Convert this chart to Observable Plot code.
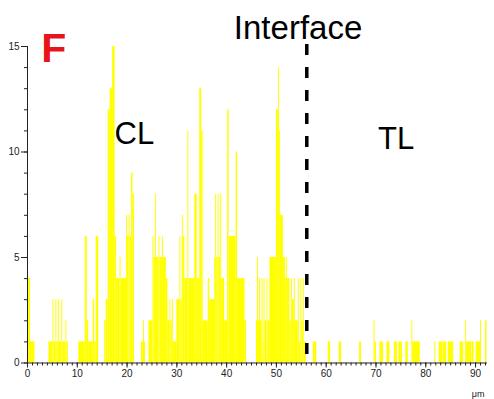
<!DOCTYPE html>
<html><head><meta charset="utf-8">
<script src="https://cdn.jsdelivr.net/npm/d3@7"></script>
<script src="https://cdn.jsdelivr.net/npm/@observablehq/plot@0.6"></script>
<style>html,body{margin:0;padding:0;background:#fff}svg{overflow:visible}</style>
</head><body><div id="chart"></div>
<script>
// [start μm, end μm, count]
const clRuns = [
[0.0,0.2,1],[0.2,0.6,4],[0.6,1.5,1],
[4.3,5.1,1],[5.1,5.3,3],[5.3,5.7,1],[5.7,5.9,3],[5.9,6.2,1],[6.2,6.4,3],[6.4,6.9,1],[6.9,7.1,3],[7.1,7.7,1],[7.7,7.9,2],[7.9,8.2,1],
[10.3,11.6,1],[11.6,12.0,6],[12.0,12.3,2],[12.3,13.2,1],[13.2,13.5,3],[13.5,13.8,1],[13.8,14.3,6],
[15.5,15.8,2],[15.8,16.2,3],[16.2,16.6,12],[16.6,17.1,13],[17.1,17.6,15],[17.6,17.9,6],[17.9,18.6,4],[18.6,18.8,5],[18.8,19.9,4],[19.9,20.1,7],[20.1,20.4,6],[20.4,20.6,7],[20.6,20.9,6],[20.9,21.2,9],[21.2,21.5,8],
[22.9,23.3,1],[23.3,23.5,2],[23.5,23.7,1],
[24.4,25.2,2],[25.2,25.4,6],[25.4,25.7,5],[25.7,25.9,8],[25.9,26.4,5],[26.4,26.6,6],[26.6,27.1,5],[27.1,27.3,6],[27.3,27.9,5],[27.9,28.2,4],[28.2,28.6,2],[28.6,28.8,3],[28.8,29.1,2],[29.1,29.3,3],[29.3,30.0,1],
[30.0,30.6,3],[30.6,30.8,6],[30.8,31.1,3],[31.1,31.3,7],[31.3,31.6,6],[31.6,32.2,4],[32.2,32.4,11],[32.4,33.6,4],[33.6,34.1,8],[34.1,34.6,4],[34.6,35.0,13],[35.0,35.3,11],[35.3,36.3,2],[36.3,36.6,4],[36.6,37.6,3],[37.6,37.8,5],[37.8,38.0,8],[38.0,38.3,5],[38.3,38.5,8],[38.5,38.8,5],[38.8,39.0,8],[39.0,39.6,4],[39.6,40.2,2],[40.2,40.5,12],[40.5,41.9,6],[41.9,42.2,10],[42.2,43.7,4],[43.7,44.0,2],
[46.0,46.2,2],[46.2,46.4,5],[46.4,46.6,2],[46.6,46.8,4],[46.8,47.1,2],[47.1,47.3,4],[47.3,47.5,1],[47.5,47.7,4],[47.7,48.1,2],[48.1,48.3,4],[48.3,48.7,2],[48.7,50.0,5],[50.0,50.4,12],[50.4,50.6,14],[50.6,50.8,11],[50.8,51.4,7],[51.4,51.8,5],[51.8,52.0,4],[52.0,52.2,5],[52.2,52.7,4],[52.7,53.0,2],[53.0,53.2,4],[53.2,53.6,3],[53.6,53.8,4],[53.8,54.4,2],[54.4,54.6,4],[54.6,54.9,1],[54.9,55.1,4],[55.1,55.4,2],[55.4,55.6,4],[55.6,56.0,1]
];
const tlRuns = [
[57.4,58.1,1],[60.4,60.9,1],[62.6,63.1,1],[66.7,67.1,1],[69.6,69.8,2],[69.8,70.1,1],[70.8,71.5,1],[72.2,72.8,1],[73.7,74.3,1],[74.6,75.3,1],[76.0,76.5,1],[77.2,77.4,2],[77.4,78.9,1],
[81.8,82.0,1],[82.7,83.5,1],[83.6,84.2,1],[84.5,85.6,1],[86.9,87.6,1],[88.0,88.2,2],[88.2,89.2,1],[89.3,89.7,1],[90.1,91.0,1],[91.0,91.2,2],[92.0,92.3,2]
];
const xMajorTicks = [0,10,20,30,40,50,60,70,80,90];
const yMajorTicks = [0,5,10,15];
const interfaceX = 56.1;
const panelLabel = "F";
const labelText = ["CL","TL","Interface"];
const labelX = [17.5, 70.4, 41.45];
const labelY = [10.36, 10.15, 15.36];
const labelSize = [31, 31, 33];
const unitLabel = "μm";

const bins = [...clRuns, ...tlRuns].map(([x1,x2,count]) => ({x1,x2,count}));
const labels = labelText.map((t,i) => ({t, x: labelX[i], y: labelY[i], s: labelSize[i]}));

const chart = Plot.plot({
  width: 494, height: 399,
  marginLeft: 27, marginRight: 7, marginTop: 46, marginBottom: 36.5,
  x: {domain: [0, 92.4], label: null},
  y: {domain: [0, 15], label: null},
  style: {fontFamily: "'Liberation Sans', Arial, sans-serif", background: "#fff", color: "#222"},
  marks: [
    Plot.rectY(bins, {x1: "x1", x2: "x2", y: "count", fill: "#ffff00"}),
    Plot.axisX({ticks: d3.range(0, 93), tickSize: 3, tickFormat: () => "", stroke: "#222"}),
    Plot.axisX({ticks: xMajorTicks, tickSize: 5, tickPadding: 2, fontSize: 10, stroke: "#222", fill: "#222"}),
    Plot.axisY({ticks: d3.range(0, 16), tickSize: 3, tickFormat: () => "", stroke: "#222"}),
    Plot.axisY({ticks: yMajorTicks, tickSize: 6, tickPadding: 2, fontSize: 10, stroke: "#222", fill: "#222"}),
    Plot.ruleY([0], {stroke: "#222"}),
    Plot.ruleX([0], {stroke: "#222"}),
    Plot.ruleX([interfaceX], {x: d => d, y1: 15.1, y2: 0, stroke: "#000", strokeWidth: 3.5, strokeDasharray: "11,12"}),
    Plot.text(labels, {x: "x", y: "y", text: "t", fontSize: d => d.s, fill: "#000", textAnchor: "start", lineAnchor: "bottom"}),
    Plot.text([panelLabel], {x: 2.76, y: 14.26, text: d => d, fontSize: 41, fontWeight: "bold", fill: "#e8141b", textAnchor: "start", lineAnchor: "bottom"}),
    Plot.text([unitLabel], {x: 90.5, y: -1.6, text: d => d, fontSize: 9, fill: "#222", textAnchor: "middle", lineAnchor: "bottom"})
  ]
});
document.getElementById("chart").appendChild(chart);
</script>
</body></html>
